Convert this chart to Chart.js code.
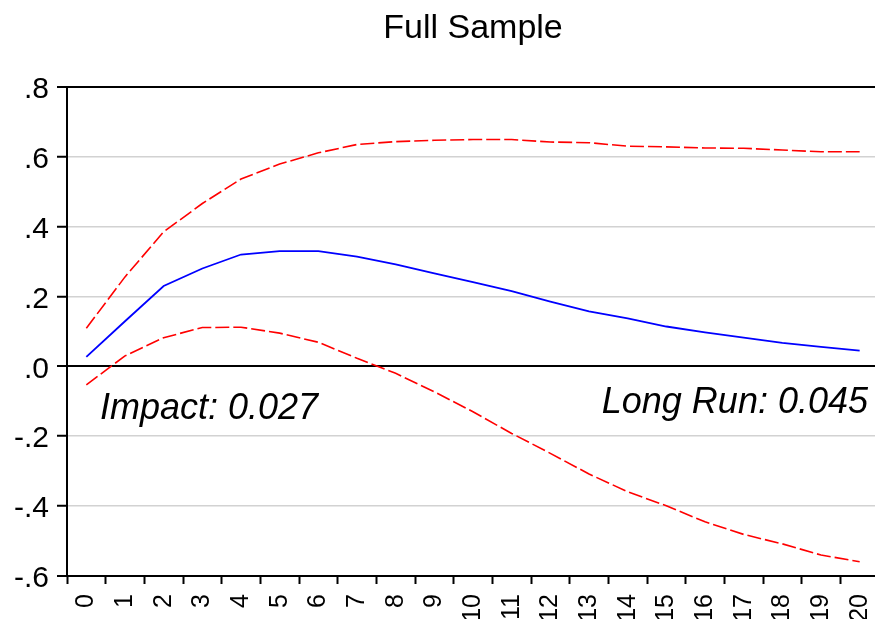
<!DOCTYPE html>
<html>
<head>
<meta charset="utf-8">
<script src="https://cdn.jsdelivr.net/npm/chart.js@4/dist/chart.umd.min.js"></script>
<style>
  html, body { margin: 0; padding: 0; background: #fff; overflow: hidden; }
  #wrap { width: 875px; height: 619px; overflow: hidden; position: relative; background: #fff; }
  canvas { display: block; }
</style>
</head>
<body>
<div id="wrap"><canvas id="c" width="879" height="619"></canvas></div>
<script>
// ---- data ----
const titleText = 'Full Sample';
const periods = ['0','1','2','3','4','5','6','7','8','9','10','11','12','13','14','15','16','17','18','19','20'];
const response = [0.027, 0.129, 0.230, 0.280, 0.320, 0.330, 0.330, 0.314, 0.292, 0.266, 0.241,
                  0.215, 0.185, 0.157, 0.137, 0.114, 0.097, 0.082, 0.067, 0.056, 0.045];
const upperBand = [0.109, 0.256, 0.385, 0.466, 0.536, 0.579, 0.611, 0.635, 0.643, 0.647, 0.649,
                   0.649, 0.642, 0.640, 0.630, 0.628, 0.625, 0.624, 0.619, 0.614, 0.614];
const lowerBand = [-0.053, 0.030, 0.082, 0.111, 0.112, 0.095, 0.069, 0.023, -0.020, -0.073, -0.130,
                   -0.192, -0.249, -0.308, -0.359, -0.399, -0.445, -0.481, -0.508, -0.540, -0.559];
const yTickValues = [-0.6, -0.4, -0.2, 0.0, 0.2, 0.4, 0.6, 0.8];
const yTickLabels = ['-.6', '-.4', '-.2', '.0', '.2', '.4', '.6', '.8'];
const impactLabel = 'Impact: ' + response[0].toFixed(3);
const longRunLabel = 'Long Run: ' + response[response.length - 1].toFixed(3);

const FONT = '"Liberation Sans", Arial, Helvetica, sans-serif';

function labelFor(v) {
  for (let i = 0; i < yTickValues.length; i++) {
    if (Math.abs(yTickValues[i] - v) < 1e-6) return yTickLabels[i];
  }
  return '';
}
function isVal(v, t) { return Math.abs(v - t) < 1e-6; }

const annotationPlugin = {
  id: 'annot',
  afterDatasetsDraw(chart) {
    const ctx = chart.ctx;
    const a = chart.chartArea;
    const y0 = chart.scales.y.getPixelForValue(0);
    ctx.save();
    ctx.fillStyle = '#000';
    ctx.font = 'italic 36px ' + FONT;
    ctx.textBaseline = 'alphabetic';
    ctx.textAlign = 'left';
    ctx.fillText(impactLabel, a.left + 33, y0 + 53);
    ctx.textAlign = 'right';
    ctx.fillText(longRunLabel, a.right - 11, y0 + 47);
    ctx.restore();
  }
};

new Chart(document.getElementById('c'), {
  type: 'line',
  data: {
    labels: periods,
    datasets: [
      { label: 'Upper', data: upperBand, borderColor: '#ff0000', borderWidth: 1.6,
        borderDash: [14, 4], pointRadius: 0, tension: 0, fill: false },
      { label: 'Response', data: response, borderColor: '#0000ff', borderWidth: 1.8,
        pointRadius: 0, tension: 0, fill: false },
      { label: 'Lower', data: lowerBand, borderColor: '#ff0000', borderWidth: 1.6,
        borderDash: [14, 4], pointRadius: 0, tension: 0, fill: false }
    ]
  },
  options: {
    responsive: false,
    animation: false,
    layout: { padding: { left: 0, right: 0, top: 0, bottom: 0 } },
    plugins: {
      legend: { display: false },
      tooltip: { enabled: false },
      title: {
        display: true,
        text: titleText,
        fullSize: false,
        color: '#000',
        font: { family: FONT, size: 34, weight: 'normal' },
        padding: { top: 8, bottom: 38 }
      }
    },
    scales: {
      x: {
        type: 'category',
        offset: true,
        afterFit: (s) => { s.height = 43; s.paddingLeft = 0; s.paddingRight = 0; },
        grid: {
          offset: true,
          drawOnChartArea: false,
          drawTicks: true,
          tickLength: 8,
          tickColor: '#000',
          tickWidth: 2
        },
        border: { display: true, color: '#000', width: 2 },
        ticks: {
          autoSkip: false,
          maxRotation: 90,
          minRotation: 90,
          padding: 10,
          color: '#000',
          font: { family: FONT, size: 25 }
        }
      },
      y: {
        min: -0.6,
        max: 0.8,
        afterFit: (s) => { s.width = 67; s.paddingTop = 0; s.paddingBottom = 0; },
        afterBuildTicks: (s) => { s.ticks = yTickValues.map(v => ({ value: v })); },
        grid: {
          drawTicks: true,
          tickLength: 10,
          tickColor: '#000',
          tickWidth: 2,
          color: (c) => {
            const v = c.tick ? c.tick.value : 0;
            if (isVal(v, 0) || isVal(v, 0.8) || isVal(v, -0.6)) return '#000';
            return '#d2d2d2';
          },
          lineWidth: (c) => {
            const v = c.tick ? c.tick.value : 0;
            if (isVal(v, 0) || isVal(v, 0.8) || isVal(v, -0.6)) return 2;
            return 1.5;
          }
        },
        border: { display: true, color: '#000', width: 2 },
        ticks: {
          padding: 8,
          color: '#000',
          labelOffset: 3,
          font: { family: FONT, size: 30 },
          callback: (v) => labelFor(v)
        }
      }
    }
  },
  plugins: [annotationPlugin]
});
</script>
</body>
</html>
